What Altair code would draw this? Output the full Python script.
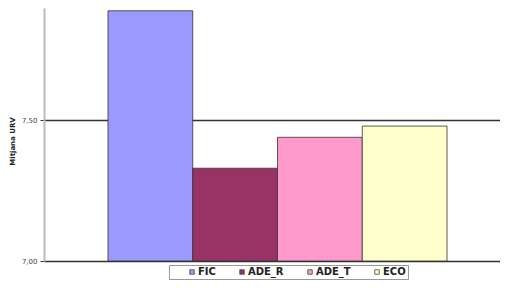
import altair as alt
import pandas as pd

series = ["FIC", "ADE_R", "ADE_T", "ECO"]
values = [7.89, 7.33, 7.44, 7.48]
colors = ["#9999FF", "#993366", "#FF99CC", "#FFFFCC"]
y_ticks = [7.0, 7.5]

df = pd.DataFrame({"serie": series, "valor": values})

chart = alt.Chart(df).mark_bar(
    stroke="#333333", strokeWidth=0.8, clip=True
).encode(
    x=alt.X("serie:N", sort=series, axis=None,
            scale=alt.Scale(paddingInner=0, paddingOuter=0.69, align=0.547)),
    y=alt.Y("valor:Q",
            scale=alt.Scale(domain=[7.0, 7.9], nice=False, zero=False),
            axis=alt.Axis(
                title="Mitjana URV", values=y_ticks, format=".2f",
                labelExpr="replace(datum.label, '.', ',')",
                labelFont="DejaVu Sans", labelFontSize=7, labelColor="#444444",
                labelPadding=3,
                tickSize=4, tickColor="#333333", tickWidth=1,
                domainColor="#BBBBBB", domainWidth=2,
                grid=True, gridColor="#333333", gridWidth=1.6,
                titleFont="DejaVu Sans", titleFontSize=7, titleFontWeight="bold",
                titleColor="#222222", titleX=-32, titleY=133, titleAngle=-90,
                titleAlign="center", titleBaseline="middle",
            )),
    y2=alt.datum(7.0),
    color=alt.Color("serie:N", sort=series,
                    scale=alt.Scale(domain=series, range=colors),
                    legend=alt.Legend(
                        title=None, orient="none", direction="horizontal",
                        legendX=125, legendY=257,
                        symbolType="square", symbolSize=20, symbolOffset=16,
                        symbolStrokeColor="#444444", symbolStrokeWidth=0.8,
                        labelFont="DejaVu Sans", labelFontSize=10,
                        labelFontWeight="bold", labelColor="#222222",
                        labelOffset=1, columnPadding=5,
                        strokeColor="#999999", fillColor="#FFFFFF",
                        padding=2,
                    )),
).properties(
    width=456, height=253,
    autosize=alt.AutoSizeParams(type="none"),
    padding={"left": 36, "top": 0, "right": 0, "bottom": 20},
).configure_view(stroke=None)

chart.save("out.html", embed_options={"renderer": "svg", "actions": False})
